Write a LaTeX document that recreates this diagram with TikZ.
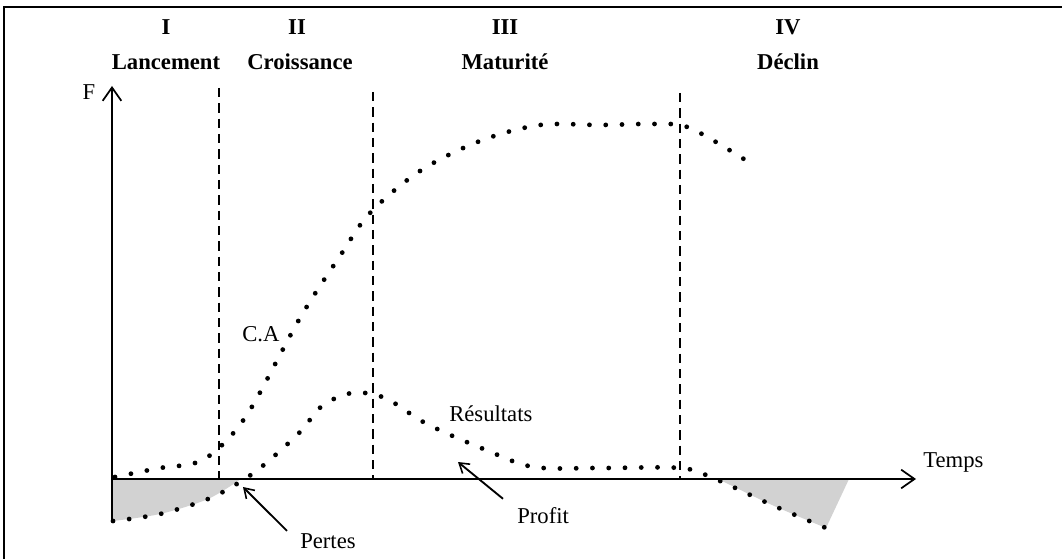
\documentclass[tikz,border=0pt]{standalone}
\usepackage{fontspec}
\setmainfont{Liberation Serif}
\usetikzlibrary{arrows.meta}
\begin{document}
\begin{tikzpicture}[x=0.75pt,y=-0.75pt,
  lbl/.style={font=\fontsize{17}{20}\selectfont, inner sep=0pt},
  phase/.style={font=\fontsize{17}{20}\selectfont\bfseries, inner sep=0pt, anchor=base},
  axis/.style={line width=1.5pt, -{Straight Barb[length=10pt,width=14pt,line width=1.3pt]}},
  sep/.style={line width=1.4pt, dash pattern=on 7pt off 4.5pt},
  curve/.style={line width=3.6pt, line cap=round, dash pattern=on 0pt off 12.2pt},
  pointer/.style={line width=1.4pt, -{Straight Barb[length=7pt,width=9pt,line width=1.2pt]}},
  shade/.style={fill=gray!35}
]
\useasboundingbox (0,0) rectangle (1062,559);

% frame
\draw[line width=1.5pt] (4,559) -- (4,7) -- (1062,7);

% shaded loss areas
\fill[shade] plot[smooth] coordinates {(113,521) (160,514) (208,499) (241,479)} -- (112,479) -- cycle;
\fill[shade] plot[smooth] coordinates {(718,479) (772,505) (826,528)} -- (849,479) -- cycle;

% axes
\draw[axis] (112,520) -- (112,86);
\draw[axis] (112,479) -- (916,479);

% phase separators
\draw[sep] (219,88) -- (219,479);
\draw[sep] (373,92) -- (373,479);
\draw[sep] (680,93) -- (680,479);

% phase titles
\node[phase] (n1) at (166,35) {I};
\node[phase] (p1) at (166,70) {Lancement};
\node[phase] (n2) at (297,35) {II};
\node[phase] (p2) at (300,70) {Croissance};
\node[phase] (n3) at (505,35) {III};
\node[phase] (p3) at (505,70) {Maturité};
\node[phase] (n4) at (788,35) {IV};
\node[phase] (p4) at (788,70) {Déclin};

% axis labels
\node[lbl, anchor=base] (f) at (89,100) {F};
\node[lbl, anchor=base west] (temps) at (923,467) {Temps};

% turnover curve
\draw[curve] plot[smooth, tension=0.55] coordinates {
  (115,477) (160,468) (195,463) (220,447) (250,410) (300,318)
  (340,256) (370,213) (420,171) (480,141) (540,125) (600,125)
  (656,124) (690,128) (747,161)};

% result curve
\draw[curve] plot[smooth, tension=0.55] coordinates {
  (113,521) (160,514) (208,499) (240,482) (265,464) (300,432)
  (322,406) (352,393) (385,398) (427,424) (486,450) (534,467)
  (600,468) (680,468) (713,478) (772,505) (826,528)};

% curve labels
\node[lbl, anchor=base west] (ca) at (242,341) {C.A};
\node[lbl, anchor=base west] (res) at (449,421) {Résultats};
\node[lbl, anchor=base west] (profit) at (517,523) {Profit};
\node[lbl, anchor=base west] (pertes) at (300,548) {Pertes};

% pointers
\coordinate (pertesTip) at (243,487);
\coordinate (profitTip) at (458,462);
\draw[pointer] ([shift={(-13,-2)}]pertes.north west) -- (pertesTip);
\draw[pointer] ([shift={(-14,-8)}]profit.north west) -- (profitTip);
\end{tikzpicture}
\end{document}
